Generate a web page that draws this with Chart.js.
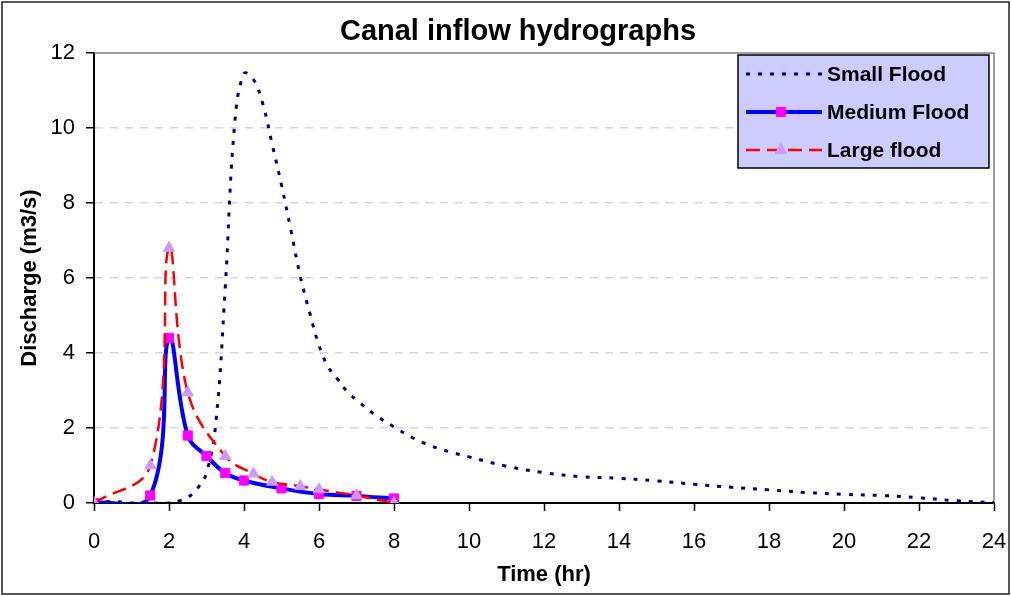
<!DOCTYPE html>
<html lang="en">
<head>
    <meta charset="UTF-8">
    <script src="https://cdn.jsdelivr.net/npm/chart.js@4/dist/chart.umd.min.js"></script>
    <title>Canal inflow hydrographs</title>
    <style>
        body {
            margin: 0;
            padding: 0;
            background-color: #fff;
        }
        #chart {
            display: block;
        }
    </style>
</head>
<body>
    <canvas id="chart" width="1011" height="596"></canvas>
    <script>
        // time (hr) and discharge (m3/s)
        const smallTime = [0, 0.5, 1, 1.5, 2, 2.25, 2.5, 2.75, 3, 3.25, 3.5, 3.75, 4, 4.25, 4.5, 4.75, 5, 5.25, 5.5, 5.75,
            6, 6.25, 6.5, 6.75, 7, 7.5, 8, 8.5, 9, 9.5, 10, 11, 12, 13, 14, 15, 16, 17, 18, 19, 20, 21, 22, 23, 24];
        const smallQ = [0, 0.04, 0, 0, 0, 0.05, 0.15, 0.38, 0.8, 2.15, 5.75, 10.1, 11.45, 11.3, 10.65, 9.57, 8.48, 7.28, 6.05, 5.08,
            4.2, 3.62, 3.3, 2.97, 2.75, 2.35, 2.03, 1.74, 1.52, 1.36, 1.23, 0.98, 0.81, 0.70, 0.66, 0.59, 0.50, 0.42, 0.35, 0.28, 0.23, 0.20, 0.14, 0.06, 0.01];

        const mediumTime = [0, 1.5, 2, 2.5, 3, 3.5, 4, 5, 6, 7, 8];
        const mediumQ = [0, 0.2, 4.4, 1.8, 1.25, 0.8, 0.6, 0.39, 0.24, 0.19, 0.12];

        const largeTime = [0, 1.5, 2, 2.5, 3.5, 4.25, 4.75, 5.5, 6, 7, 8];
        const largeQ = [0, 1.0, 6.8, 2.95, 1.25, 0.78, 0.56, 0.45, 0.36, 0.2, 0];

        const seriesNames = ['Small Flood', 'Medium Flood', 'Large flood'];
        const chartTitle = 'Canal inflow hydrographs';

        const xMin = 0, xMax = 24, xStep = 2;
        const yMin = 0, yMax = 12, yStep = 2;

        const FONT = 'Arial, "Liberation Sans", sans-serif';

        function toPoints(xs, ys) {
            return xs.map((x, i) => ({ x: x, y: ys[i] }));
        }

        // grey frame on top/right of the plot, outer border, title
        const framePlugin = {
            id: 'frame',
            beforeDatasetsDraw(chart) {
                const { ctx, chartArea: a } = chart;
                ctx.save();
                ctx.strokeStyle = '#808080';
                ctx.lineWidth = 1.5;
                ctx.beginPath();
                ctx.moveTo(a.left, a.top);
                ctx.lineTo(a.right, a.top);
                ctx.lineTo(a.right, a.bottom);
                ctx.stroke();
                ctx.restore();
            },
            afterDraw(chart) {
                const ctx = chart.ctx;
                ctx.save();
                ctx.strokeStyle = '#222';
                ctx.lineWidth = 1.5;
                ctx.strokeRect(2, 2, chart.width - 4, chart.height - 4);
                ctx.fillStyle = '#000';
                ctx.font = 'bold 29px ' + FONT;
                ctx.textAlign = 'center';
                ctx.textBaseline = 'middle';
                ctx.fillText(chartTitle, 518, 32);
                ctx.restore();
            }
        };

        // legend box drawn inside the plot, like the Excel one
        const boxLegend = {
            id: 'boxLegend',
            afterDraw(chart) {
                const ctx = chart.ctx;
                const left = 738, top = 55, w = 251, h = 113;
                ctx.save();
                ctx.fillStyle = '#ccccff';
                ctx.fillRect(left, top, w, h);
                ctx.strokeStyle = '#000';
                ctx.lineWidth = 1.5;
                ctx.strokeRect(left, top, w, h);

                chart.data.datasets.forEach((ds, i) => {
                    const y = top + 19 + i * 38;
                    ctx.save();
                    ctx.strokeStyle = ds.borderColor;
                    ctx.lineWidth = ds.borderWidth;
                    ctx.setLineDash(ds.borderDash || []);
                    ctx.beginPath();
                    ctx.moveTo(746, y);
                    ctx.lineTo(822, y);
                    ctx.stroke();
                    ctx.restore();
                    if (ds.pointRadius > 0) {
                        ctx.save();
                        ctx.fillStyle = ds.pointBackgroundColor;
                        ctx.strokeStyle = ds.pointBorderColor;
                        ctx.lineWidth = 1;
                        Chart.helpers.drawPoint(ctx, {
                            pointStyle: ds.pointStyle,
                            radius: ds.pointRadius,
                            rotation: 0,
                            borderWidth: 1
                        }, 781, y);
                        ctx.restore();
                    }
                    ctx.fillStyle = '#000';
                    ctx.font = 'bold 21px ' + FONT;
                    ctx.textBaseline = 'middle';
                    ctx.textAlign = 'left';
                    ctx.fillText(ds.label, 827, y + 1);
                });
                ctx.restore();
            }
        };

        const ctx = document.getElementById('chart').getContext('2d');

        new Chart(ctx, {
            type: 'line',
            data: {
                datasets: [
                    {
                        label: seriesNames[0],
                        data: toPoints(smallTime, smallQ),
                        borderColor: '#000080',
                        borderWidth: 3,
                        borderDash: [4, 8],
                        pointRadius: 0,
                        tension: 0.4,
                        order: 2
                    },
                    {
                        label: seriesNames[1],
                        data: toPoints(mediumTime, mediumQ),
                        borderColor: '#0000ff',
                        borderWidth: 4,
                        pointStyle: 'rect',
                        pointRadius: 6.5,
                        pointBackgroundColor: '#ff00ff',
                        pointBorderColor: '#ff00ff',
                        pointBorderWidth: 1,
                        tension: 0.4,
                        order: 1
                    },
                    {
                        label: seriesNames[2],
                        data: toPoints(largeTime, largeQ),
                        borderColor: '#ff0000',
                        borderWidth: 2.5,
                        borderDash: [14, 7],
                        pointStyle: 'triangle',
                        pointRadius: 6.5,
                        pointBackgroundColor: '#cc99ff',
                        pointBorderColor: '#cc99ff',
                        pointBorderWidth: 1,
                        tension: 0.4,
                        order: 0
                    }
                ]
            },
            options: {
                responsive: false,
                animation: false,
                devicePixelRatio: 1,
                layout: {
                    padding: { left: 0, right: 17, top: 53, bottom: 0 }
                },
                elements: {
                    line: { capBezierPoints: false }
                },
                plugins: {
                    legend: { display: false },
                    tooltip: { enabled: false },
                    title: { display: false }
                },
                scales: {
                    x: {
                        type: 'linear',
                        min: xMin,
                        max: xMax,
                        afterFit(scale) {
                            scale.height = 93;
                            scale.paddingLeft = 0;
                            scale.paddingRight = 0;
                        },
                        ticks: {
                            stepSize: xStep,
                            color: '#000',
                            padding: 18,
                            maxRotation: 0,
                            font: { family: FONT, size: 22 }
                        },
                        grid: {
                            drawOnChartArea: false,
                            drawTicks: true,
                            tickLength: 8,
                            tickColor: '#000',
                            tickWidth: 1.5
                        },
                        border: { color: '#000', width: 2 },
                        title: {
                            display: true,
                            text: 'Time (hr)',
                            color: '#000',
                            font: { family: FONT, size: 22, weight: 'bold', lineHeight: 1.2 },
                            padding: { top: 0, bottom: 8 }
                        }
                    },
                    y: {
                        min: yMin,
                        max: yMax,
                        afterFit(scale) { scale.width = 94; },
                        ticks: {
                            stepSize: yStep,
                            color: '#000',
                            padding: 11,
                            font: { family: FONT, size: 22 }
                        },
                        grid: {
                            color: (c) => (c.tick && (c.tick.value === yMin || c.tick.value === yMax)) ? 'rgba(0,0,0,0)' : '#d4d4fa',
                            lineWidth: 1.5,
                            tickLength: 8,
                            tickColor: '#000',
                            tickWidth: 1.5,
                            tickBorderDash: []
                        },
                        border: { color: '#000', width: 2, dash: [8, 7] },
                        title: {
                            display: true,
                            text: 'Discharge (m3/s)',
                            color: '#000',
                            font: { family: FONT, size: 22, weight: 'bold', lineHeight: 1.2 },
                            padding: { top: 17, bottom: 0 }
                        }
                    }
                }
            },
            plugins: [framePlugin, boxLegend]
        });
    </script>
</body>
</html>
